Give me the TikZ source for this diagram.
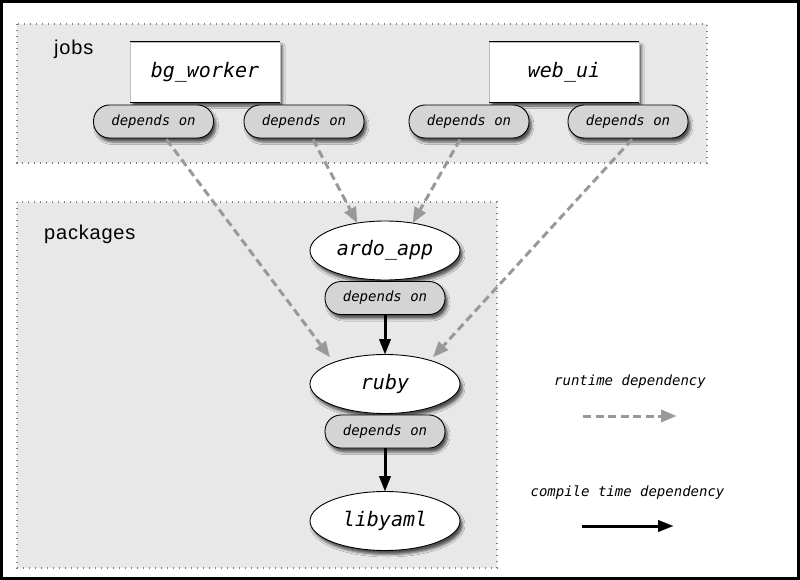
\documentclass[tikz,border=0pt]{standalone}
\usepackage{fontspec}
\usetikzlibrary{arrows.meta,shapes.geometric,shadows.blur}
\newfontfamily\monof{DejaVu Sans Mono}
\newfontfamily\lblf[LetterSpace=4]{Liberation Sans}
\definecolor{boxgray}{HTML}{E8E8E8}
\definecolor{pillgray}{HTML}{D4D4D4}
\definecolor{dashgray}{HTML}{999999}
\definecolor{dotgray}{HTML}{808080}
\begin{document}
\begin{tikzpicture}[x=1pt,y=-1pt,
  group/.style={fill=boxgray, draw=dotgray, line width=1.1pt, dash pattern=on 1.1pt off 4.9pt},
  grouplabel/.style={font=\lblf\fontsize{20}{24}\selectfont, anchor=west, inner sep=0pt},
  myshadow/.style={blur shadow={shadow xshift=2.5pt, shadow yshift=-4pt, shadow blur radius=2.5pt, shadow opacity=65}},
  jobbox/.style={rectangle, fill=white, draw=black!25, line width=0.5pt, minimum width=150pt, minimum height=60pt, inner sep=0pt, font=\monof\itshape\fontsize{20}{24}\selectfont, myshadow},
  pkg/.style={ellipse, draw=black, line width=0.9pt, fill=white, minimum width=150pt, minimum height=59pt, inner sep=0pt, font=\monof\itshape\fontsize{20}{24}\selectfont, myshadow},
  pill/.style={rectangle, rounded corners=16pt, draw=black, line width=0.9pt, fill=pillgray, minimum width=120pt, minimum height=33pt, inner sep=0pt, font=\monof\itshape\fontsize{14}{16}\selectfont, myshadow},
  legendtext/.style={font=\monof\itshape\fontsize{14}{16}\selectfont, inner sep=0pt},
  rundep/.style={draw=dashgray, line width=3pt, dash pattern=on 8pt off 4.5pt, -{Triangle[length=15pt,width=13pt,line width=0.1pt]}},
  compdep/.style={draw=black, line width=3pt, -{Triangle[length=15pt,width=12pt,line width=0.1pt]}}
]
\useasboundingbox (0,0) rectangle (800,580);
\fill[white] (0,0) rectangle (800,580);
% groups
\path[group] (17,24) rectangle (707,163);
\path[group] (17,202) rectangle (497,568);
\node[grouplabel] (jobslbl) at (54,49) {jobs};
\node[grouplabel] (pkglbl) at (44,234) {packages};
% jobs
\node[jobbox] (bg) at (205,72) {bg\_worker};
\node[jobbox] (web) at (564,72) {web\_ui};
\draw[line width=1pt] (bg.north west) -- (bg.north east) (bg.south west) -- (bg.south east);
\draw[line width=1pt] (web.north west) -- (web.north east) (web.south west) -- (web.south east);
\node[pill] (p1) at (153.5,121.5) {depends on};
\node[pill] (p2) at (304,121.5) {depends on};
\node[pill] (p3) at (469,121.5) {depends on};
\node[pill] (p4) at (628,121.5) {depends on};
% packages
\node[pkg] (ardo) at (385,250.5) {ardo\_app};
\node[pill] (pa) at (385,298) {depends on};
\node[pkg] (ruby) at (385,384) {ruby};
\node[pill] (pr) at (385,431.5) {depends on};
\node[pkg] (yaml) at (385,521) {libyaml};
% runtime dependencies
\draw[rundep] ([xshift=13pt,yshift=-1pt]p1.south) -- ([shift={(-2,-6)}]ruby.north west);
\draw[rundep] ([xshift=9pt,yshift=-1pt]p2.south) -- (ardo.135);
\draw[rundep] ([xshift=-9pt,yshift=-1pt]p3.south) -- (ardo.45);
\draw[rundep] ([xshift=4pt,yshift=-1pt]p4.south) -- ([shift={(-5,-6)}]ruby.north east);
% compile time dependencies
\draw[compdep] (pa.south) -- (ruby.north);
\draw[compdep] (pr.south) -- (yaml.north);
% legend
\node[legendtext] (lrun) at (630,382) {runtime dependency};
\coordinate (lr1) at (583,416);
\coordinate (lr2) at (676,416);
\draw[rundep] (lr1) -- (lr2);
\node[legendtext] (lcomp) at (627.5,493) {compile time dependency};
\coordinate (lc1) at (582,526);
\coordinate (lc2) at (673,526);
\draw[compdep] (lc1) -- (lc2);
% frame
\draw[line width=3pt] (1.5,1.5) rectangle (798.5,578.5);
\end{tikzpicture}
\end{document}
